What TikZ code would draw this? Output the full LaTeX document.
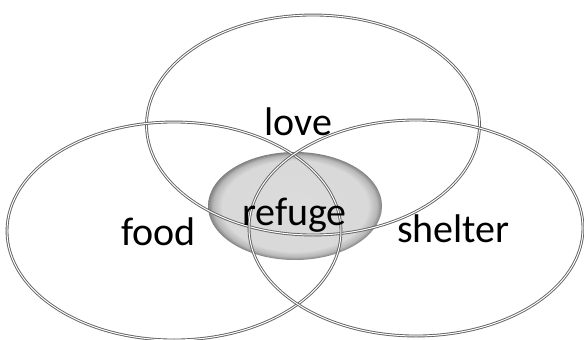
\documentclass[tikz,border=0pt]{standalone}
\usepackage{fontspec}
\setmainfont{Carlito}
\usetikzlibrary{shapes.geometric}
\pgfdeclareradialshading{refugeshade}{\pgfpoint{0bp}{0bp}}{color(0bp)=(black!14); color(21bp)=(black!15); color(23.5bp)=(black!28); color(25bp)=(black!50); color(50bp)=(black!50)}
\begin{document}
\begin{tikzpicture}[x=1pt,y=-1pt,
  ring/.style={ellipse, draw=black!62, line width=0.9pt, double=white, double distance=1pt, inner sep=0pt},
  core/.style={ellipse, inner sep=0pt, shading=refugeshade},
  word/.style={anchor=base, inner sep=0pt, font=\fontsize{40}{48}\selectfont}]
\useasboundingbox (0,0) rectangle (584,340);
\node[core, minimum width=174pt, minimum height=108pt] (refugebox) at (295,206) {};
\node[ring, minimum width=333pt, minimum height=220pt] (top) at (313,125) {};
\node[ring, minimum width=334pt, minimum height=218pt] (left) at (174,231) {};
\node[ring, minimum width=334pt, minimum height=216pt] (right) at (416,228) {};
\node[word] (love) at (298.5,135) {love};
\node[word] (food) at (158.5,245) {food};
\node[word] (shelter) at (453.5,242) {shelter};
\node[word] (refuge) at (294.5,225) {refuge};
\end{tikzpicture}
\end{document}
